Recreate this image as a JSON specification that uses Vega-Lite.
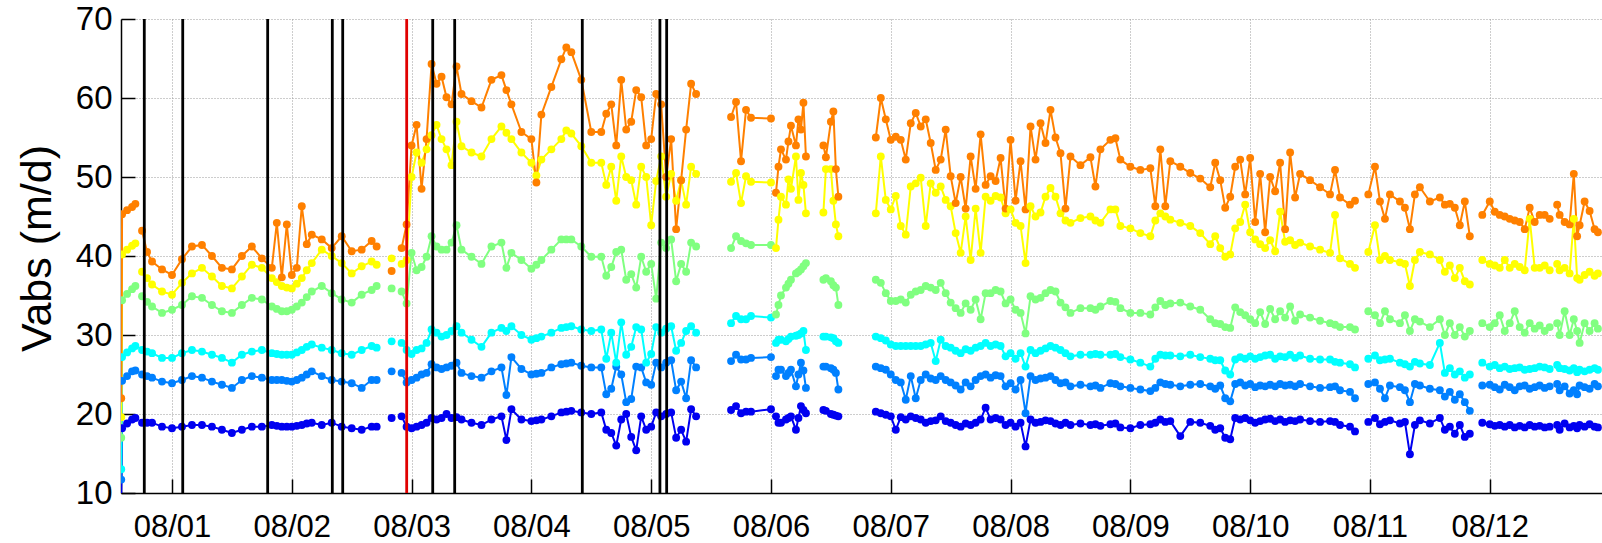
{
"$schema":"https://vega.github.io/schema/vega-lite/v6.json",
"width":1481,"height":474,
"autosize":{"type":"none"},
"padding":{"left":121,"top":19,"right":0,"bottom":50},
"background":"white",
"config":{"view":{"stroke":null},"axis":{"labelFont":"Liberation Sans","titleFont":"Liberation Sans","labelColor":"#000","titleColor":"#000","domainColor":"#000","domainWidth":1.5,"tickColor":"#000","tickWidth":1.5,"tickSize":-14,"gridColor":"#9a9a9a","gridDash":[1,2],"gridWidth":1,"labelFontSize":31}},
"datasets":{
"v":[
{"t":"2015-07-31T13:50","k":0,"b":9,"m":11.7,"c":13,"g":17,"y":19.6,"o":22},
{"t":"2015-07-31T14:00","k":0,"b":18.2,"m":24.2,"c":27.2,"g":34.4,"y":40.2,"o":45.3},
{"t":"2015-07-31T15:00","k":0,"b":18.8,"m":24.8,"c":27.8,"g":35.2,"y":40.8,"o":45.8},
{"t":"2015-07-31T16:00","k":0,"b":19.3,"m":25.4,"c":28.3,"g":35.8,"y":41.3,"o":46.2},
{"t":"2015-07-31T16:40","k":0,"b":19.5,"m":25.5,"c":28.6,"g":36.2,"y":41.6,"o":46.6},
{"t":"2015-07-31T18:00","k":1,"b":18.9,"m":25.0,"c":28.1,"g":34.9,"y":38.0,"o":43.2},
{"t":"2015-07-31T19:00","k":1,"b":18.9,"m":24.8,"c":27.9,"g":34.2,"y":37.2,"o":40.5},
{"t":"2015-07-31T20:00","k":1,"b":18.9,"m":24.6,"c":27.7,"g":33.6,"y":36.4,"o":39.3},
{"t":"2015-07-31T22:00","k":1,"b":18.4,"m":24.1,"c":27.1,"g":32.8,"y":35.5,"o":38.3},
{"t":"2015-08-01T00:00","k":1,"b":18.2,"m":23.9,"c":27.1,"g":33.2,"y":35.1,"o":37.6},
{"t":"2015-08-01T02:00","k":1,"b":18.4,"m":24.3,"c":27.7,"g":33.8,"y":36.6,"o":39.6},
{"t":"2015-08-01T04:00","k":1,"b":18.6,"m":24.8,"c":28.1,"g":34.9,"y":37.8,"o":41.2},
{"t":"2015-08-01T06:00","k":1,"b":18.6,"m":24.6,"c":27.9,"g":34.7,"y":38.5,"o":41.4},
{"t":"2015-08-01T08:00","k":1,"b":18.4,"m":24.1,"c":27.5,"g":33.8,"y":37.4,"o":40.0},
{"t":"2015-08-01T10:00","k":1,"b":18.0,"m":23.7,"c":27.1,"g":33.0,"y":36.2,"o":38.5},
{"t":"2015-08-01T12:00","k":1,"b":17.6,"m":23.3,"c":26.5,"g":32.8,"y":35.9,"o":38.3},
{"t":"2015-08-01T14:00","k":1,"b":18.0,"m":24.3,"c":27.5,"g":33.8,"y":37.4,"o":40.0},
{"t":"2015-08-01T16:00","k":1,"b":18.4,"m":24.8,"c":27.9,"g":34.7,"y":38.9,"o":41.2},
{"t":"2015-08-01T18:00","k":1,"b":18.4,"m":24.6,"c":28.1,"g":34.5,"y":38.5,"o":39.7},
{"t":"2015-08-01T20:00","k":1,"b":18.6,"m":24.3,"c":27.7,"g":33.6,"y":37.2,"o":38.5},
{"t":"2015-08-01T21:00","k":1,"b":18.5,"m":24.3,"c":27.6,"g":33.3,"y":36.7,"o":44.2},
{"t":"2015-08-01T22:00","k":1,"b":18.4,"m":24.3,"c":27.5,"g":33.0,"y":36.2,"o":37.3},
{"t":"2015-08-01T23:00","k":1,"b":18.4,"m":24.2,"c":27.5,"g":33.0,"y":36.0,"o":44.0},
{"t":"2015-08-02T00:00","k":1,"b":18.4,"m":24.1,"c":27.5,"g":33.2,"y":35.9,"o":37.6},
{"t":"2015-08-02T01:00","k":1,"b":18.5,"m":24.3,"c":27.8,"g":33.6,"y":36.5,"o":38.5},
{"t":"2015-08-02T02:00","k":1,"b":18.6,"m":24.6,"c":28.1,"g":34.1,"y":37.2,"o":46.3},
{"t":"2015-08-02T03:00","k":1,"b":18.8,"m":25.0,"c":28.5,"g":34.8,"y":38.2,"o":41.5},
{"t":"2015-08-02T04:00","k":1,"b":18.9,"m":25.4,"c":28.8,"g":35.5,"y":39.1,"o":42.7},
{"t":"2015-08-02T06:00","k":1,"b":18.6,"m":24.8,"c":28.4,"g":36.2,"y":40.8,"o":42.1},
{"t":"2015-08-02T08:00","k":1,"b":18.9,"m":24.3,"c":28.1,"g":35.3,"y":40.0,"o":41.0},
{"t":"2015-08-02T10:00","k":1,"b":18.4,"m":24.1,"c":27.7,"g":34.5,"y":39.1,"o":42.5},
{"t":"2015-08-02T12:00","k":1,"b":18.2,"m":23.9,"c":27.5,"g":34.1,"y":37.8,"o":40.6},
{"t":"2015-08-02T14:00","k":1,"b":18.0,"m":23.3,"c":28.1,"g":35.1,"y":38.7,"o":40.8},
{"t":"2015-08-02T16:00","k":1,"b":18.4,"m":24.3,"c":28.6,"g":35.7,"y":39.3,"o":41.9},
{"t":"2015-08-02T17:00","k":1,"b":18.4,"m":24.3,"c":28.4,"g":36.2,"y":38.9,"o":41.2},
{"t":"2015-08-02T20:00","k":2,"b":19.5,"m":25.4,"c":29.2,"g":35.9,"y":39.7,"o":38.1},
{"t":"2015-08-02T22:00","k":3,"b":19.7,"m":25.2,"c":29.0,"g":35.5,"y":39.0,"o":41.0},
{"t":"2015-08-02T23:00","k":3,"b":18.4,"m":24.0,"c":28.1,"g":34.0,"y":39.5,"o":44.0},
{"t":"2015-08-03T00:00","k":3,"b":18.2,"m":24.3,"c":27.6,"g":40.4,"y":50.0,"o":54.0},
{"t":"2015-08-03T01:00","k":3,"b":18.4,"m":24.6,"c":28.1,"g":38.2,"y":53.1,"o":56.6},
{"t":"2015-08-03T02:00","k":3,"b":18.6,"m":25.0,"c":28.3,"g":38.6,"y":51.8,"o":48.5},
{"t":"2015-08-03T03:00","k":3,"b":18.9,"m":25.2,"c":29.0,"g":39.9,"y":53.5,"o":54.8},
{"t":"2015-08-03T04:00","k":3,"b":19.5,"m":26.3,"c":30.7,"g":42.5,"y":55.3,"o":64.3},
{"t":"2015-08-03T05:00","k":3,"b":19.3,"m":25.9,"c":30.3,"g":41.2,"y":56.6,"o":61.8},
{"t":"2015-08-03T06:00","k":3,"b":19.5,"m":25.7,"c":29.8,"g":40.8,"y":54.8,"o":62.7},
{"t":"2015-08-03T07:00","k":3,"b":20.0,"m":25.9,"c":30.0,"g":40.8,"y":53.5,"o":60.1},
{"t":"2015-08-03T08:00","k":3,"b":19.5,"m":26.1,"c":30.5,"g":41.7,"y":51.5,"o":59.2},
{"t":"2015-08-03T09:00","k":3,"b":19.6,"m":26.5,"c":31.1,"g":43.9,"y":57.0,"o":64.0},
{"t":"2015-08-03T10:00","k":3,"b":19.3,"m":25.2,"c":30.3,"g":40.8,"y":53.9,"o":60.5},
{"t":"2015-08-03T12:00","k":3,"b":18.9,"m":24.8,"c":29.4,"g":39.9,"y":53.1,"o":59.6},
{"t":"2015-08-03T14:00","k":3,"b":18.6,"m":24.6,"c":28.5,"g":39.0,"y":52.6,"o":58.8},
{"t":"2015-08-03T16:00","k":3,"b":19.3,"m":25.4,"c":30.3,"g":41.2,"y":54.8,"o":62.3},
{"t":"2015-08-03T18:00","k":3,"b":19.7,"m":25.9,"c":30.9,"g":41.7,"y":56.4,"o":62.9},
{"t":"2015-08-03T19:00","k":3,"b":16.7,"m":22.4,"c":30.5,"g":38.5,"y":55.6,"o":61.0},
{"t":"2015-08-03T20:00","k":3,"b":20.6,"m":27.2,"c":31.1,"g":40.4,"y":54.8,"o":59.2},
{"t":"2015-08-03T22:00","k":3,"b":19.3,"m":25.7,"c":30.0,"g":39.5,"y":53.1,"o":55.7},
{"t":"2015-08-04T00:00","k":3,"b":19.1,"m":25.0,"c":29.4,"g":38.4,"y":51.8,"o":54.8},
{"t":"2015-08-04T01:00","k":3,"b":19.2,"m":25.1,"c":29.6,"g":38.9,"y":50.2,"o":49.3},
{"t":"2015-08-04T02:00","k":3,"b":19.3,"m":25.2,"c":29.8,"g":39.5,"y":52.2,"o":57.9},
{"t":"2015-08-04T04:00","k":3,"b":19.7,"m":25.9,"c":30.3,"g":40.8,"y":53.5,"o":61.4},
{"t":"2015-08-04T06:00","k":3,"b":20.2,"m":26.3,"c":30.9,"g":42.1,"y":54.8,"o":64.9},
{"t":"2015-08-04T07:00","k":3,"b":20.3,"m":26.4,"c":31.0,"g":42.1,"y":55.9,"o":66.4},
{"t":"2015-08-04T08:00","k":3,"b":20.4,"m":26.5,"c":31.1,"g":42.1,"y":55.5,"o":65.8},
{"t":"2015-08-04T10:00","k":3,"b":20.2,"m":26.1,"c":30.7,"g":41.2,"y":53.9,"o":62.3},
{"t":"2015-08-04T12:00","k":3,"b":20.0,"m":25.9,"c":30.5,"g":39.9,"y":51.8,"o":55.7},
{"t":"2015-08-04T14:00","k":3,"b":20.2,"m":25.9,"c":30.7,"g":39.9,"y":51.8,"o":55.7},
{"t":"2015-08-04T15:00","k":3,"b":18.0,"m":22.5,"c":27.0,"g":37.5,"y":49.0,"o":58.0},
{"t":"2015-08-04T16:00","k":3,"b":17.6,"m":23.2,"c":30.3,"g":38.6,"y":51.3,"o":59.2},
{"t":"2015-08-04T17:00","k":3,"b":16.0,"m":26.0,"c":26.5,"g":40.5,"y":47.0,"o":54.0},
{"t":"2015-08-04T18:00","k":3,"b":19.3,"m":25.0,"c":31.6,"g":40.8,"y":52.6,"o":62.3},
{"t":"2015-08-04T19:00","k":3,"b":20.0,"m":21.5,"c":27.5,"g":37.0,"y":50.0,"o":56.0},
{"t":"2015-08-04T20:00","k":3,"b":17.1,"m":21.9,"c":28.5,"g":37.7,"y":49.6,"o":57.0},
{"t":"2015-08-04T21:00","k":3,"b":15.4,"m":26.0,"c":31.0,"g":36.0,"y":46.5,"o":61.0},
{"t":"2015-08-04T22:00","k":3,"b":19.7,"m":25.9,"c":30.7,"g":39.9,"y":51.3,"o":60.1},
{"t":"2015-08-04T23:00","k":3,"b":18.0,"m":24.0,"c":26.5,"g":38.0,"y":50.0,"o":54.0},
{"t":"2015-08-05T00:00","k":3,"b":18.4,"m":23.7,"c":27.6,"g":39.0,"y":43.9,"o":54.8},
{"t":"2015-08-05T01:00","k":3,"b":20.2,"m":26.5,"c":31.0,"g":34.6,"y":49.5,"o":60.5},
{"t":"2015-08-05T02:00","k":3,"b":19.7,"m":25.9,"c":30.3,"g":41.7,"y":52.6,"o":59.2},
{"t":"2015-08-05T03:00","k":3,"b":20.0,"m":26.5,"c":30.8,"g":41.0,"y":47.5,"o":50.0},
{"t":"2015-08-05T04:00","k":3,"b":20.2,"m":26.8,"c":31.1,"g":42.1,"y":50.4,"o":54.8},
{"t":"2015-08-05T05:00","k":3,"b":17.0,"m":23.0,"c":28.0,"g":36.8,"y":47.0,"o":43.4},
{"t":"2015-08-05T06:00","k":3,"b":18.0,"m":24.1,"c":29.0,"g":39.0,"y":49.6,"o":49.6},
{"t":"2015-08-05T07:00","k":3,"b":16.5,"m":22.0,"c":30.5,"g":38.0,"y":46.5,"o":56.0},
{"t":"2015-08-05T08:00","k":3,"b":20.6,"m":26.8,"c":31.1,"g":41.7,"y":51.3,"o":61.8},
{"t":"2015-08-05T09:00","k":3,"b":19.7,"m":25.9,"c":30.3,"g":41.2,"y":50.4,"o":60.5},
{"t":"2015-08-05T16:00","k":4,"b":20.5,"m":26.7,"c":31.5,"g":41.0,"y":49.4,"o":57.6},
{"t":"2015-08-05T17:00","k":4,"b":21.0,"m":27.5,"c":32.4,"g":42.5,"y":50.5,"o":59.5},
{"t":"2015-08-05T18:00","k":4,"b":20.1,"m":26.9,"c":32.0,"g":41.9,"y":46.7,"o":52.0},
{"t":"2015-08-05T19:00","k":4,"b":20.3,"m":26.9,"c":32.0,"g":41.6,"y":50.1,"o":58.5},
{"t":"2015-08-05T20:00","k":4,"b":20.3,"m":27.1,"c":32.4,"g":41.4,"y":49.4,"o":57.5},
{"t":"2015-08-06T00:00","k":4,"b":20.6,"m":27.2,"c":32.2,"g":41.4,"y":49.3,"o":57.4},
{"t":"2015-08-06T01:00","k":5,"b":19.7,"m":24.8,"c":29.0,"g":32.6,"y":41.0,"o":48.0},
{"t":"2015-08-06T01:30","k":5,"b":18.9,"m":25.6,"c":29.4,"g":33.8,"y":44.6,"o":51.3},
{"t":"2015-08-06T02:00","k":5,"b":18.9,"m":25.6,"c":29.4,"g":35.0,"y":47.5,"o":53.5},
{"t":"2015-08-06T03:00","k":5,"b":19.3,"m":24.8,"c":29.2,"g":36.0,"y":46.5,"o":52.2},
{"t":"2015-08-06T03:30","k":5,"b":19.5,"m":25.2,"c":29.5,"g":36.5,"y":49.7,"o":54.5},
{"t":"2015-08-06T04:00","k":5,"b":19.7,"m":25.6,"c":29.8,"g":37.0,"y":48.5,"o":56.5},
{"t":"2015-08-06T05:00","k":5,"b":18.0,"m":23.5,"c":29.9,"g":37.8,"y":52.6,"o":54.0},
{"t":"2015-08-06T05:30","k":5,"b":19.5,"m":25.0,"c":30.0,"g":38.0,"y":47.1,"o":57.3},
{"t":"2015-08-06T06:00","k":5,"b":21.0,"m":26.5,"c":30.2,"g":38.3,"y":50.5,"o":56.0},
{"t":"2015-08-06T06:30","k":5,"b":20.5,"m":25.5,"c":30.5,"g":38.7,"y":49.0,"o":59.4},
{"t":"2015-08-06T07:00","k":5,"b":20.1,"m":23.3,"c":28.1,"g":39.1,"y":45.4,"o":52.6},
{"t":"2015-08-06T10:30","k":6,"b":20.5,"m":26.0,"c":29.8,"g":37.0,"y":45.5,"o":54.0},
{"t":"2015-08-06T11:00","k":6,"b":20.4,"m":26.0,"c":29.8,"g":37.2,"y":51.0,"o":52.5},
{"t":"2015-08-06T12:00","k":6,"b":20.0,"m":25.8,"c":29.7,"g":36.8,"y":51.0,"o":57.0},
{"t":"2015-08-06T12:30","k":6,"b":19.9,"m":25.6,"c":29.6,"g":36.3,"y":47.0,"o":58.3},
{"t":"2015-08-06T13:00","k":6,"b":19.8,"m":25.2,"c":29.2,"g":36.0,"y":44.0,"o":51.0},
{"t":"2015-08-06T13:30","k":6,"b":19.7,"m":23.1,"c":29.0,"g":33.8,"y":42.5,"o":47.5},
{"t":"2015-08-06T21:00","k":7,"b":20.3,"m":26.0,"c":29.8,"g":37.0,"y":45.4,"o":55.0},
{"t":"2015-08-06T22:00","k":7,"b":20.1,"m":25.8,"c":29.6,"g":36.6,"y":52.6,"o":60.0},
{"t":"2015-08-06T23:00","k":7,"b":19.9,"m":25.6,"c":29.3,"g":35.3,"y":47.1,"o":57.3},
{"t":"2015-08-07T00:00","k":7,"b":19.7,"m":25.0,"c":28.8,"g":34.3,"y":45.9,"o":54.7},
{"t":"2015-08-07T01:00","k":7,"b":18.0,"m":24.3,"c":28.6,"g":34.3,"y":47.6,"o":55.1},
{"t":"2015-08-07T02:00","k":7,"b":19.6,"m":24.0,"c":28.6,"g":34.5,"y":43.8,"o":54.7},
{"t":"2015-08-07T03:00","k":7,"b":19.3,"m":21.8,"c":28.6,"g":34.1,"y":42.7,"o":52.2},
{"t":"2015-08-07T04:00","k":7,"b":19.7,"m":24.8,"c":28.6,"g":35.1,"y":48.8,"o":56.8},
{"t":"2015-08-07T05:00","k":7,"b":19.5,"m":22.0,"c":28.6,"g":35.5,"y":49.2,"o":58.1},
{"t":"2015-08-07T06:00","k":7,"b":19.3,"m":24.3,"c":28.6,"g":35.7,"y":49.9,"o":56.4},
{"t":"2015-08-07T07:00","k":7,"b":18.9,"m":25.0,"c":28.8,"g":36.2,"y":43.8,"o":57.3},
{"t":"2015-08-07T08:00","k":7,"b":19.1,"m":24.5,"c":29.0,"g":36.0,"y":49.2,"o":54.3},
{"t":"2015-08-07T09:00","k":7,"b":19.2,"m":24.3,"c":26.7,"g":35.7,"y":48.0,"o":50.9},
{"t":"2015-08-07T10:00","k":7,"b":19.7,"m":24.8,"c":29.4,"g":36.6,"y":48.8,"o":52.2},
{"t":"2015-08-07T11:00","k":7,"b":19.1,"m":24.3,"c":28.6,"g":35.3,"y":47.1,"o":56.0},
{"t":"2015-08-07T12:00","k":7,"b":18.9,"m":24.0,"c":28.4,"g":34.1,"y":46.3,"o":50.1},
{"t":"2015-08-07T13:00","k":7,"b":18.6,"m":23.6,"c":28.0,"g":33.4,"y":42.9,"o":46.7},
{"t":"2015-08-07T14:00","k":7,"b":18.4,"m":23.1,"c":27.7,"g":32.8,"y":40.4,"o":50.0},
{"t":"2015-08-07T15:00","k":7,"b":18.8,"m":24.0,"c":28.2,"g":34.0,"y":45.0,"o":46.0},
{"t":"2015-08-07T16:00","k":7,"b":18.6,"m":23.5,"c":28.0,"g":33.2,"y":39.5,"o":52.6},
{"t":"2015-08-07T17:00","k":7,"b":18.9,"m":24.3,"c":28.4,"g":34.5,"y":46.0,"o":48.5},
{"t":"2015-08-07T18:00","k":7,"b":19.3,"m":24.8,"c":28.6,"g":32.0,"y":40.4,"o":55.4},
{"t":"2015-08-07T19:00","k":7,"b":20.8,"m":25.0,"c":29.0,"g":35.3,"y":47.5,"o":49.0},
{"t":"2015-08-07T20:00","k":7,"b":19.3,"m":24.6,"c":28.6,"g":35.3,"y":47.0,"o":50.1},
{"t":"2015-08-07T21:00","k":7,"b":19.5,"m":24.9,"c":28.8,"g":35.7,"y":47.6,"o":49.5},
{"t":"2015-08-07T22:00","k":7,"b":19.3,"m":24.8,"c":28.6,"g":35.5,"y":47.4,"o":52.4},
{"t":"2015-08-07T23:00","k":7,"b":18.6,"m":23.5,"c":27.3,"g":34.0,"y":45.4,"o":46.0},
{"t":"2015-08-08T00:00","k":7,"b":18.9,"m":23.9,"c":27.7,"g":34.5,"y":45.9,"o":54.7},
{"t":"2015-08-08T01:00","k":7,"b":18.4,"m":23.1,"c":27.0,"g":33.2,"y":44.2,"o":47.0},
{"t":"2015-08-08T02:00","k":7,"b":18.9,"m":24.3,"c":27.7,"g":32.8,"y":43.8,"o":52.0},
{"t":"2015-08-08T03:00","k":7,"b":15.9,"m":20.1,"c":26.0,"g":30.2,"y":39.1,"o":45.9},
{"t":"2015-08-08T04:00","k":7,"b":19.3,"m":24.8,"c":28.1,"g":34.9,"y":46.3,"o":56.4},
{"t":"2015-08-08T05:00","k":7,"b":18.9,"m":24.3,"c":27.7,"g":34.5,"y":45.0,"o":52.2},
{"t":"2015-08-08T06:00","k":7,"b":19.0,"m":24.5,"c":28.0,"g":34.7,"y":45.5,"o":56.8},
{"t":"2015-08-08T07:00","k":7,"b":19.2,"m":24.6,"c":28.3,"g":35.3,"y":47.5,"o":54.3},
{"t":"2015-08-08T08:00","k":7,"b":19.1,"m":24.8,"c":28.6,"g":35.7,"y":48.6,"o":58.5},
{"t":"2015-08-08T09:00","k":7,"b":18.8,"m":24.3,"c":28.4,"g":35.5,"y":47.5,"o":55.0},
{"t":"2015-08-08T10:00","k":7,"b":18.6,"m":23.9,"c":28.1,"g":34.1,"y":45.4,"o":53.0},
{"t":"2015-08-08T11:00","k":7,"b":18.9,"m":24.0,"c":27.7,"g":33.5,"y":44.5,"o":46.0},
{"t":"2015-08-08T12:00","k":7,"b":18.6,"m":23.5,"c":27.3,"g":32.8,"y":44.2,"o":52.6},
{"t":"2015-08-08T14:00","k":7,"b":18.8,"m":23.7,"c":27.5,"g":33.4,"y":44.8,"o":51.5},
{"t":"2015-08-08T16:00","k":7,"b":18.6,"m":23.5,"c":27.5,"g":33.4,"y":45.0,"o":52.5},
{"t":"2015-08-08T17:00","k":7,"b":18.7,"m":23.6,"c":27.6,"g":33.2,"y":44.5,"o":48.8},
{"t":"2015-08-08T18:00","k":7,"b":18.5,"m":23.3,"c":27.5,"g":33.6,"y":44.2,"o":53.5},
{"t":"2015-08-08T20:00","k":7,"b":18.7,"m":23.9,"c":27.5,"g":34.3,"y":45.9,"o":54.7},
{"t":"2015-08-08T21:00","k":7,"b":18.8,"m":23.8,"c":27.6,"g":34.2,"y":45.9,"o":54.9},
{"t":"2015-08-08T22:00","k":7,"b":18.3,"m":23.5,"c":27.2,"g":33.4,"y":43.8,"o":52.2},
{"t":"2015-08-09T00:00","k":7,"b":18.2,"m":23.3,"c":26.9,"g":32.8,"y":43.5,"o":51.3},
{"t":"2015-08-09T02:00","k":7,"b":18.6,"m":23.1,"c":26.5,"g":32.8,"y":42.9,"o":50.9},
{"t":"2015-08-09T04:00","k":7,"b":18.7,"m":22.9,"c":26.0,"g":32.6,"y":42.5,"o":51.1},
{"t":"2015-08-09T05:00","k":7,"b":18.9,"m":23.3,"c":27.0,"g":33.5,"y":44.5,"o":46.3},
{"t":"2015-08-09T06:00","k":7,"b":19.3,"m":24.0,"c":27.5,"g":34.3,"y":45.4,"o":53.5},
{"t":"2015-08-09T07:00","k":7,"b":19.0,"m":23.8,"c":27.4,"g":33.8,"y":45.0,"o":46.3},
{"t":"2015-08-09T08:00","k":7,"b":19.1,"m":23.7,"c":27.4,"g":34.0,"y":44.6,"o":52.0},
{"t":"2015-08-09T10:00","k":7,"b":17.2,"m":23.5,"c":27.3,"g":34.1,"y":44.2,"o":51.3},
{"t":"2015-08-09T12:00","k":7,"b":19.0,"m":23.7,"c":27.5,"g":33.6,"y":43.8,"o":50.5},
{"t":"2015-08-09T14:00","k":7,"b":18.9,"m":23.8,"c":27.2,"g":33.2,"y":42.9,"o":49.8},
{"t":"2015-08-09T16:00","k":7,"b":18.5,"m":23.5,"c":27.0,"g":32.0,"y":41.5,"o":48.7},
{"t":"2015-08-09T17:00","k":7,"b":18.0,"m":23.2,"c":26.8,"g":31.5,"y":42.5,"o":51.8},
{"t":"2015-08-09T18:00","k":7,"b":18.2,"m":23.6,"c":26.8,"g":31.4,"y":41.0,"o":49.6},
{"t":"2015-08-09T19:00","k":7,"b":17.0,"m":22.0,"c":25.5,"g":31.0,"y":39.9,"o":46.1},
{"t":"2015-08-09T20:00","k":7,"b":16.8,"m":21.6,"c":25.0,"g":30.9,"y":40.2,"o":47.5},
{"t":"2015-08-09T21:00","k":7,"b":19.5,"m":23.8,"c":26.9,"g":33.5,"y":43.5,"o":51.3},
{"t":"2015-08-09T22:00","k":7,"b":19.3,"m":24.0,"c":27.2,"g":32.9,"y":44.3,"o":52.2},
{"t":"2015-08-09T23:00","k":7,"b":19.5,"m":23.6,"c":27.0,"g":32.5,"y":46.5,"o":47.8},
{"t":"2015-08-10T00:00","k":7,"b":19.2,"m":23.8,"c":27.3,"g":32.0,"y":43.0,"o":52.4},
{"t":"2015-08-10T01:00","k":7,"b":18.9,"m":23.4,"c":27.0,"g":31.5,"y":42.1,"o":44.3},
{"t":"2015-08-10T02:00","k":7,"b":19.1,"m":23.6,"c":27.2,"g":32.9,"y":41.5,"o":50.4},
{"t":"2015-08-10T03:00","k":7,"b":19.3,"m":23.5,"c":27.4,"g":31.4,"y":41.0,"o":43.0},
{"t":"2015-08-10T04:00","k":7,"b":19.4,"m":23.7,"c":27.5,"g":33.3,"y":42.0,"o":50.0},
{"t":"2015-08-10T05:00","k":7,"b":19.1,"m":23.5,"c":27.0,"g":32.0,"y":40.6,"o":48.2},
{"t":"2015-08-10T06:00","k":7,"b":19.3,"m":23.8,"c":27.3,"g":33.0,"y":45.6,"o":51.8},
{"t":"2015-08-10T07:00","k":7,"b":19.0,"m":23.6,"c":27.2,"g":32.2,"y":41.8,"o":43.4},
{"t":"2015-08-10T08:00","k":7,"b":19.2,"m":23.7,"c":27.5,"g":33.6,"y":42.0,"o":53.1},
{"t":"2015-08-10T09:00","k":7,"b":19.1,"m":23.5,"c":27.1,"g":31.8,"y":41.4,"o":47.4},
{"t":"2015-08-10T10:00","k":7,"b":19.3,"m":23.8,"c":27.4,"g":32.6,"y":41.7,"o":50.4},
{"t":"2015-08-10T12:00","k":7,"b":19.1,"m":23.5,"c":27.0,"g":32.2,"y":41.2,"o":49.6},
{"t":"2015-08-10T14:00","k":7,"b":19.0,"m":23.3,"c":26.9,"g":31.8,"y":40.8,"o":48.7},
{"t":"2015-08-10T16:00","k":7,"b":19.1,"m":23.4,"c":26.9,"g":31.5,"y":40.4,"o":47.8},
{"t":"2015-08-10T17:00","k":7,"b":19.0,"m":23.5,"c":26.6,"g":31.3,"y":45.2,"o":50.9},
{"t":"2015-08-10T18:00","k":7,"b":18.6,"m":23.0,"c":26.5,"g":31.0,"y":39.7,"o":47.4},
{"t":"2015-08-10T20:00","k":7,"b":18.4,"m":22.8,"c":26.3,"g":31.0,"y":39.0,"o":46.5},
{"t":"2015-08-10T21:00","k":7,"b":17.8,"m":22.0,"c":25.9,"g":30.7,"y":38.5,"o":47.0},
{"t":"2015-08-10T23:40","k":8,"b":19.0,"m":23.8,"c":27.0,"g":33.0,"y":40.5,"o":47.8},
{"t":"2015-08-11T01:00","k":8,"b":19.5,"m":24.0,"c":27.4,"g":32.5,"y":43.9,"o":51.3},
{"t":"2015-08-11T02:00","k":8,"b":18.7,"m":23.2,"c":26.8,"g":31.5,"y":39.5,"o":46.9},
{"t":"2015-08-11T03:00","k":8,"b":19.0,"m":22.0,"c":26.9,"g":33.0,"y":40.0,"o":44.7},
{"t":"2015-08-11T04:00","k":8,"b":19.2,"m":23.6,"c":27.0,"g":32.0,"y":39.5,"o":47.8},
{"t":"2015-08-11T06:00","k":8,"b":18.8,"m":23.4,"c":26.5,"g":31.5,"y":39.2,"o":46.9},
{"t":"2015-08-11T07:00","k":8,"b":19.0,"m":23.0,"c":26.3,"g":32.5,"y":39.0,"o":46.1},
{"t":"2015-08-11T08:00","k":8,"b":14.9,"m":21.5,"c":26.0,"g":30.5,"y":36.2,"o":43.4},
{"t":"2015-08-11T09:00","k":8,"b":18.6,"m":23.8,"c":26.6,"g":32.0,"y":39.5,"o":47.8},
{"t":"2015-08-11T10:00","k":8,"b":19.2,"m":23.6,"c":26.4,"g":31.7,"y":40.5,"o":48.7},
{"t":"2015-08-11T12:00","k":8,"b":18.8,"m":23.2,"c":26.2,"g":31.0,"y":40.2,"o":46.9},
{"t":"2015-08-11T14:00","k":8,"b":19.5,"m":23.0,"c":29.0,"g":32.0,"y":39.5,"o":47.4},
{"t":"2015-08-11T15:00","k":8,"b":18.0,"m":22.2,"c":25.2,"g":30.0,"y":38.0,"o":46.5},
{"t":"2015-08-11T16:00","k":8,"b":18.4,"m":22.8,"c":25.8,"g":31.5,"y":38.8,"o":46.6},
{"t":"2015-08-11T17:00","k":8,"b":17.5,"m":21.8,"c":25.0,"g":30.0,"y":37.2,"o":46.1},
{"t":"2015-08-11T18:00","k":8,"b":18.6,"m":22.5,"c":25.4,"g":31.0,"y":38.5,"o":43.9},
{"t":"2015-08-11T19:00","k":8,"b":17.1,"m":21.5,"c":24.6,"g":29.8,"y":36.8,"o":46.9},
{"t":"2015-08-11T20:00","k":8,"b":17.5,"m":20.4,"c":25.0,"g":30.5,"y":36.4,"o":42.5},
{"t":"2015-08-11T22:30","k":9,"b":18.9,"m":23.6,"c":26.5,"g":31.5,"y":39.5,"o":45.2},
{"t":"2015-08-12T00:00","k":9,"b":18.7,"m":23.7,"c":26.0,"g":31.0,"y":39.0,"o":46.9},
{"t":"2015-08-12T01:00","k":9,"b":18.5,"m":23.4,"c":26.2,"g":31.5,"y":38.8,"o":45.6},
{"t":"2015-08-12T02:00","k":9,"b":18.6,"m":23.1,"c":25.8,"g":32.5,"y":38.5,"o":45.2},
{"t":"2015-08-12T03:00","k":9,"b":18.4,"m":23.7,"c":26.0,"g":30.5,"y":39.5,"o":45.0},
{"t":"2015-08-12T04:00","k":9,"b":18.6,"m":23.4,"c":25.7,"g":31.5,"y":38.5,"o":44.7},
{"t":"2015-08-12T05:00","k":9,"b":18.3,"m":23.0,"c":25.8,"g":33.0,"y":39.0,"o":44.5},
{"t":"2015-08-12T06:00","k":9,"b":18.5,"m":23.5,"c":25.9,"g":31.0,"y":38.6,"o":44.3},
{"t":"2015-08-12T07:00","k":9,"b":18.3,"m":23.6,"c":25.6,"g":30.3,"y":38.2,"o":43.4},
{"t":"2015-08-12T08:00","k":9,"b":18.6,"m":23.2,"c":25.7,"g":31.5,"y":44.7,"o":46.1},
{"t":"2015-08-12T09:00","k":9,"b":18.4,"m":23.4,"c":25.8,"g":30.8,"y":38.5,"o":44.3},
{"t":"2015-08-12T10:00","k":9,"b":18.5,"m":23.6,"c":26.0,"g":31.2,"y":38.5,"o":45.2},
{"t":"2015-08-12T11:00","k":9,"b":18.3,"m":23.3,"c":25.9,"g":30.5,"y":38.8,"o":45.2},
{"t":"2015-08-12T12:00","k":9,"b":18.4,"m":23.5,"c":25.7,"g":31.0,"y":38.2,"o":44.7},
{"t":"2015-08-12T13:30","k":10,"b":18.6,"m":23.8,"c":26.2,"g":31.5,"y":39.0,"o":46.5},
{"t":"2015-08-12T14:00","k":10,"b":18.0,"m":23.0,"c":25.8,"g":30.0,"y":38.2,"o":45.2},
{"t":"2015-08-12T15:00","k":10,"b":18.8,"m":23.5,"c":25.7,"g":33.0,"y":38.5,"o":44.3},
{"t":"2015-08-12T16:00","k":10,"b":18.3,"m":22.6,"c":25.5,"g":30.0,"y":37.8,"o":44.0},
{"t":"2015-08-12T16:50","k":10,"b":18.5,"m":23.0,"c":25.8,"g":32.0,"y":44.7,"o":50.4},
{"t":"2015-08-12T17:30","k":10,"b":18.2,"m":22.5,"c":25.3,"g":30.5,"y":37.2,"o":42.5},
{"t":"2015-08-12T18:00","k":10,"b":18.6,"m":23.6,"c":25.6,"g":29.0,"y":37.0,"o":43.9},
{"t":"2015-08-12T19:00","k":10,"b":18.4,"m":23.4,"c":25.4,"g":31.5,"y":37.6,"o":46.9},
{"t":"2015-08-12T20:00","k":10,"b":18.7,"m":23.2,"c":25.6,"g":30.5,"y":38.0,"o":45.7},
{"t":"2015-08-12T21:00","k":10,"b":18.4,"m":23.8,"c":25.8,"g":31.5,"y":37.5,"o":43.4},
{"t":"2015-08-12T21:40","k":10,"b":18.3,"m":23.5,"c":25.6,"g":30.8,"y":37.8,"o":43.0}
],
"ev":[
{"t":"2015-07-31T18:27","e":"a"},
{"t":"2015-08-01T02:09","e":"a"},
{"t":"2015-08-01T19:10","e":"a"},
{"t":"2015-08-02T08:07","e":"a"},
{"t":"2015-08-02T10:12","e":"a"},
{"t":"2015-08-02T23:01","e":"r"},
{"t":"2015-08-03T04:14","e":"a"},
{"t":"2015-08-03T08:38","e":"a"},
{"t":"2015-08-04T10:12","e":"a"},
{"t":"2015-08-05T01:45","e":"a"},
{"t":"2015-08-05T03:06","e":"a"}
]
},
"resolve":{"scale":{"color":"independent"}},
"encoding":{
 "x":{"field":"t","type":"temporal",
  "scale":{"domain":[{"year":2015,"month":7,"date":31,"hours":13,"minutes":47},{"year":2015,"month":8,"date":12,"hours":22,"minutes":29}]},
  "axis":{"title":null,"format":"%m/%d","tickCount":{"interval":"day","step":1},"labelPadding":33,"labelFontSize":31,"labelOverlap":false,"labelFlush":false,"grid":true}}
},
"layer":[
 {"data":{"name":"v"},
  "transform":[{"fold":["b","m","c","g","y","o"],"as":["s","val"]}],
  "encoding":{
   "y":{"field":"val","type":"quantitative","scale":{"domain":[10,70],"nice":false,"zero":false},
    "axis":{"values":[10,20,30,40,50,60,70],"title":"Vabs (m/d)","titleFontSize":43,"titleFontWeight":"normal","titleX":-71,"titleY":229,"titleBaseline":"alphabetic","titleAlign":"center","titleAngle":-90,"labelPadding":23,"labelFontSize":33,"grid":true}},
   "color":{"field":"s","type":"nominal","scale":{"domain":["b","m","c","g","y","o"],"range":["#0000f0","#0080ff","#00ffff","#80ff80","#ffff00","#ff8000"]},"legend":null}
  },
  "layer":[
   {"mark":{"type":"line","strokeWidth":2,"clip":true},"encoding":{"detail":{"field":"k","type":"nominal"}}},
   {"mark":{"type":"circle","size":62,"opacity":1,"clip":true}}
  ]},
 {"data":{"name":"ev"},
  "mark":{"type":"rule","strokeWidth":2.8},
  "encoding":{"color":{"field":"e","type":"nominal","scale":{"domain":["a","r"],"range":["#000000","#e00000"]},"legend":null}}}
]
}
